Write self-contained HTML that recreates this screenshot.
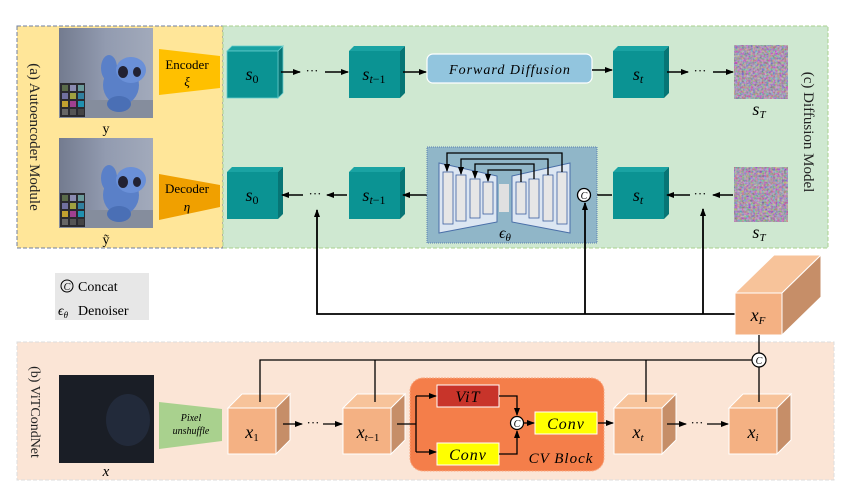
<!DOCTYPE html>
<html><head><meta charset="utf-8"><style>
body{margin:0;background:#fff}
svg text{font-family:"Liberation Serif",serif}
.m{font-style:italic}
</style></head><body>
<svg width="853" height="496" viewBox="0 0 853 496" xmlns="http://www.w3.org/2000/svg">
<defs>
<marker id="a" markerWidth="8" markerHeight="8" refX="7" refY="4" orient="auto" markerUnits="userSpaceOnUse"><path d="M0,1 L8,4 L0,7z" fill="#000"/></marker>
<filter id="nz" x="0" y="0" width="100%" height="100%"><feTurbulence type="fractalNoise" baseFrequency="0.45" numOctaves="3" seed="3"/><feColorMatrix type="matrix" values="0.9 -0.1 0.0 0 0.0  -0.1 0.8 -0.1 0 0.02  0.0 -0.1 0.9 0 0.03  0 0 0 0 1"/></filter>
<linearGradient id="ph" x1="0" y1="0" x2="1" y2="0"><stop offset="0" stop-color="#737b8f"/><stop offset="0.5" stop-color="#929bb0"/><stop offset="1" stop-color="#a2aabb"/></linearGradient>
<g id="photo">
<rect x="0" y="0" width="94" height="90" fill="url(#ph)"/>
<rect x="0" y="72" width="94" height="18" fill="#858d9d"/>
<ellipse cx="62" cy="57" rx="18" ry="20" fill="#5a80c8"/>
<ellipse cx="50" cy="40" rx="8" ry="13" fill="#5a80c8"/>
<ellipse cx="72" cy="42" rx="15" ry="13" fill="#6a90d8"/>
<ellipse cx="64" cy="44" rx="5" ry="6" fill="#223"/>
<ellipse cx="78" cy="44" rx="4" ry="5" fill="#223"/>
<ellipse cx="60" cy="76" rx="12" ry="8" fill="#4a6fb5"/>
<rect x="1" y="55" width="25" height="34" fill="#2a2a30"/>
<rect x="3" y="57" width="6" height="6" fill="#5a6b4a"/><rect x="11" y="57" width="6" height="6" fill="#8a8ab0"/><rect x="19" y="57" width="6" height="6" fill="#6a9a9a"/>
<rect x="3" y="65" width="6" height="6" fill="#7070a0"/><rect x="11" y="65" width="6" height="6" fill="#a0a040"/><rect x="19" y="65" width="6" height="6" fill="#3080a0"/>
<rect x="3" y="73" width="6" height="6" fill="#c0a030"/><rect x="11" y="73" width="6" height="6" fill="#a04090"/><rect x="19" y="73" width="6" height="6" fill="#2090b0"/>
<rect x="3" y="81" width="6" height="6" fill="#666"/><rect x="11" y="81" width="6" height="6" fill="#555"/><rect x="19" y="81" width="6" height="6" fill="#444"/>
</g>
</defs>

<rect x="17" y="26" width="206" height="222" fill="#ffe699" stroke="#6f7fa0" stroke-dasharray="4,2" stroke-width="1"/>
<rect x="223" y="26" width="605" height="222" fill="#cfe8d1" stroke="#a9d18e" stroke-dasharray="4,2"/>
<rect x="17" y="342" width="817" height="138" fill="#fbe5d6" stroke="#ddd" stroke-dasharray="4,2"/>

<text transform="translate(30,137) rotate(90)" text-anchor="middle" font-size="15" fill="#222">(a) Autoencoder Module</text>
<text transform="translate(804,132) rotate(90)" text-anchor="middle" font-size="15" fill="#222">(c) Diffusion Model</text>
<text transform="translate(31,412) rotate(90)" text-anchor="middle" font-size="14" fill="#222">(b) ViTCondNet</text>

<use href="#photo" x="59" y="28"/>
<use href="#photo" x="59" y="138"/>
<text x="106" y="133" text-anchor="middle" font-size="14">y</text>
<text x="106" y="244" text-anchor="middle" font-size="14">ỹ</text>

<polygon points="159,49 220,56 220,88 159,95" fill="#ffc000"/>
<text x="187" y="69" text-anchor="middle" font-size="13">Encoder</text>
<text x="187" y="86" text-anchor="middle" font-size="13" class="m">ξ</text>
<polygon points="159,174 220,185 220,207 159,220" fill="#f0a000"/>
<text x="187" y="193" text-anchor="middle" font-size="13">Decoder</text>
<text x="187" y="211" text-anchor="middle" font-size="13" class="m">η</text>

<g stroke="#6cc" stroke-width="0.8">
<g id="tc"><polygon points="227,51 232,46 283,46 278,51" fill="#1aa3a3"/><polygon points="278,51 283,46 283,93 278,98" fill="#077575"/><rect x="227" y="51" width="51" height="47" fill="#0b9393"/></g>
</g>
<use href="#tc" x="122" y="0"/><use href="#tc" x="386" y="0"/>
<use href="#tc" x="0" y="121"/><use href="#tc" x="122" y="121"/><use href="#tc" x="386" y="121"/>
<g font-size="18" class="m" text-anchor="middle">
<text x="252" y="80">s<tspan font-size="12" dy="3" font-style="normal">0</tspan></text>
<text x="374" y="80">s<tspan font-size="12" dy="3">t</tspan><tspan font-size="12" font-style="normal">−1</tspan></text>
<text x="638" y="80">s<tspan font-size="12" dy="3">t</tspan></text>
<text x="252" y="201">s<tspan font-size="12" dy="3" font-style="normal">0</tspan></text>
<text x="374" y="201">s<tspan font-size="12" dy="3">t</tspan><tspan font-size="12" font-style="normal">−1</tspan></text>
<text x="638" y="201">s<tspan font-size="12" dy="3">t</tspan></text>
<text x="759" y="115">s<tspan font-size="11" dy="3">T</tspan></text>
<text x="759" y="238">s<tspan font-size="11" dy="3">T</tspan></text>
</g>
<rect x="734" y="45" width="54" height="54" filter="url(#nz)"/>
<rect x="734" y="167" width="54" height="55" filter="url(#nz)"/>

<rect x="427" y="54" width="165" height="29" rx="6" fill="#92c5de" stroke="#fff" stroke-width="1.2"/>
<text x="510" y="74" text-anchor="middle" font-size="14" class="m" letter-spacing="1">Forward Diffusion</text>

<g stroke="#000" stroke-width="1.6" fill="none">
<line x1="281" y1="72" x2="300" y2="72" marker-end="url(#a)"/>
<line x1="325" y1="72" x2="348" y2="72" marker-end="url(#a)"/>
<line x1="403" y1="72" x2="426" y2="72" marker-end="url(#a)"/>
<line x1="592" y1="70" x2="612" y2="70" marker-end="url(#a)"/>
<line x1="667" y1="72" x2="688" y2="72" marker-end="url(#a)"/>
<line x1="713" y1="72" x2="733" y2="72" marker-end="url(#a)"/>
<line x1="733" y1="195" x2="713" y2="195" marker-end="url(#a)"/>
<line x1="690" y1="195" x2="667" y2="195" marker-end="url(#a)"/>
<line x1="612" y1="195" x2="590" y2="195"/>
<line x1="577" y1="195" x2="568" y2="195" marker-end="url(#a)"/>
<line x1="427" y1="195" x2="403" y2="195" marker-end="url(#a)"/>
<line x1="347" y1="195" x2="327" y2="195" marker-end="url(#a)"/>
<line x1="303" y1="195" x2="282" y2="195" marker-end="url(#a)"/>
</g>
<g font-size="13" text-anchor="middle"><text x="312" y="75">···</text><text x="700" y="75">···</text><text x="315" y="198">···</text><text x="700" y="198">···</text></g>

<rect x="427" y="147" width="170" height="96" fill="#90b6c8" stroke="#5a7fb0" stroke-dasharray="1,1"/>
<polygon points="439,163 497,176 497,222 439,233" fill="#dce6f2" stroke="#4a6fa8"/>
<polygon points="512,176 570,163 570,233 512,222" fill="#dce6f2" stroke="#4a6fa8"/>
<g fill="#e6e6e6" stroke="#3d5fa0" stroke-width="0.8">
<rect x="443" y="172" width="10" height="52"/><rect x="456" y="175" width="10" height="46"/><rect x="470" y="179" width="10" height="39"/><rect x="483" y="182" width="10" height="32"/>
<rect x="499" y="184" width="10" height="28" stroke="none" fill="#e0e0e0"/>
<rect x="516" y="182" width="10" height="32"/><rect x="529" y="179" width="10" height="39"/><rect x="543" y="175" width="10" height="46"/><rect x="557" y="172" width="10" height="52"/>
</g>
<g stroke="#000" stroke-width="1.3" fill="none">
<path d="M562,172 V153 H447 V171" marker-end="url(#a)"/>
<path d="M548,175 V159 H461 V174" marker-end="url(#a)"/>
<path d="M534,179 V164 H475 V178" marker-end="url(#a)"/>
<path d="M521,182 V170 H488 V181" marker-end="url(#a)"/>
</g>
<text x="505" y="238" font-size="16" class="m" text-anchor="middle">ϵ<tspan font-size="11" dy="3">θ</tspan></text>

<g stroke="#000" stroke-width="1.8" fill="none">
<path d="M735,314 H317 V210" marker-end="url(#a)"/>
<line x1="585" y1="314" x2="585" y2="203" marker-end="url(#a)"/>
<line x1="703" y1="314" x2="703" y2="209" marker-end="url(#a)"/>
</g>
<circle cx="584" cy="195" r="6.5" fill="#fff" stroke="#000" stroke-width="1.3"/>
<text x="584" y="199" font-size="10" class="m" text-anchor="middle">C</text>

<rect x="55" y="273" width="94" height="47" fill="#e7e7e7"/>
<circle cx="67" cy="286" r="6" fill="none" stroke="#000"/>
<text x="67" y="290" font-size="10" class="m" text-anchor="middle">C</text>
<text x="78" y="291" font-size="14">Concat</text>
<text x="63" y="315" font-size="14" class="m" text-anchor="middle">ϵ<tspan font-size="9" dy="3">θ</tspan></text>
<text x="78" y="315" font-size="14">Denoiser</text>

<polygon points="735,293 774,255 821,255 782,293" fill="#f7c39a" stroke="#fff"/>
<polygon points="782,293 821,255 821,297 782,335" fill="#c68e68" stroke="#fff"/>
<rect x="735" y="293" width="47" height="42" fill="#f4b183" stroke="#fff"/>
<text x="758" y="321" font-size="18" class="m" text-anchor="middle">x<tspan font-size="11" dy="3">F</tspan></text>

<rect x="59" y="375" width="95" height="88" fill="#1a1e26"/>
<ellipse cx="128" cy="420" rx="22" ry="26" fill="#222a3a"/>
<text x="106" y="476" font-size="15" class="m" text-anchor="middle">x</text>
<polygon points="159,402 222,409 222,441 159,449" fill="#a9d18e"/>
<text x="191" y="421" font-size="10" class="m" text-anchor="middle">Pixel</text>
<text x="191" y="434" font-size="10" class="m" text-anchor="middle">unshuffle</text>

<g id="oc"><polygon points="228,408 242,394 290,394 276,408" fill="#f7c39a" stroke="#fff"/><polygon points="276,408 290,394 290,440 276,454" fill="#c68e68" stroke="#fff"/><rect x="228" y="408" width="48" height="46" fill="#f4b183" stroke="#fff"/></g>
<use href="#oc" x="115" y="0"/><use href="#oc" x="386" y="0"/><use href="#oc" x="501" y="0"/>
<g font-size="18" class="m" text-anchor="middle">
<text x="252" y="438">x<tspan font-size="11" dy="3" font-style="normal">1</tspan></text>
<text x="368" y="438">x<tspan font-size="11" dy="3">t</tspan><tspan font-size="11" font-style="normal">−1</tspan></text>
<text x="638" y="438">x<tspan font-size="11" dy="3">t</tspan></text>
<text x="753" y="438">x<tspan font-size="11" dy="3">i</tspan></text>
</g>

<rect x="410" y="378" width="194" height="93" rx="13" fill="#f47e4a" stroke="#f9a880" stroke-dasharray="2,1"/>
<rect x="437" y="385" width="62" height="22" fill="#c8342a" stroke="#fff"/>
<text x="468" y="402" font-size="16" class="m" text-anchor="middle" letter-spacing="1">ViT</text>
<rect x="437" y="443" width="62" height="22" fill="#ffff00" stroke="#fff"/>
<text x="468" y="460" font-size="16" class="m" text-anchor="middle" letter-spacing="1">Conv</text>
<rect x="535" y="412" width="62" height="22" fill="#ffff00" stroke="#fff"/>
<text x="566" y="429" font-size="16" class="m" text-anchor="middle" letter-spacing="1">Conv</text>
<text x="561" y="463" font-size="15" class="m" text-anchor="middle" letter-spacing="1">CV Block</text>

<g stroke="#000" stroke-width="1.3" fill="none">
<path d="M260,402 V360 H752"/>
<line x1="375" y1="402" x2="375" y2="360"/>
<line x1="646" y1="402" x2="646" y2="360"/>
<line x1="759" y1="402" x2="759" y2="367"/>
<line x1="759" y1="353" x2="759" y2="335"/>
<line x1="283" y1="424" x2="302" y2="424" marker-end="url(#a)"/>
<line x1="323" y1="424" x2="342" y2="424" marker-end="url(#a)"/>
<path d="M397,424 H416"/>
<path d="M416,396 V452"/>
<line x1="416" y1="396" x2="436" y2="396" marker-end="url(#a)"/>
<line x1="416" y1="452" x2="436" y2="452" marker-end="url(#a)"/>
<path d="M499,396 H517 V415" marker-end="url(#a)"/>
<path d="M499,454 H517 V431" marker-end="url(#a)"/>
<line x1="524" y1="423" x2="534" y2="423" marker-end="url(#a)"/>
<line x1="598" y1="423" x2="613" y2="423" marker-end="url(#a)"/>
<line x1="667" y1="424" x2="686" y2="424" marker-end="url(#a)"/>
<line x1="707" y1="424" x2="728" y2="424" marker-end="url(#a)"/>
</g>
<g font-size="13" text-anchor="middle"><text x="313" y="427">···</text><text x="697" y="427">···</text></g>
<circle cx="517" cy="423" r="6.5" fill="#fff" stroke="#000" stroke-width="1.2"/>
<text x="517" y="427" font-size="10" class="m" text-anchor="middle">C</text>
<circle cx="759" cy="360" r="7" fill="#fff" stroke="#000" stroke-width="1.2"/>
<text x="759" y="364" font-size="10" class="m" text-anchor="middle">C</text>
</svg>
</body></html>
